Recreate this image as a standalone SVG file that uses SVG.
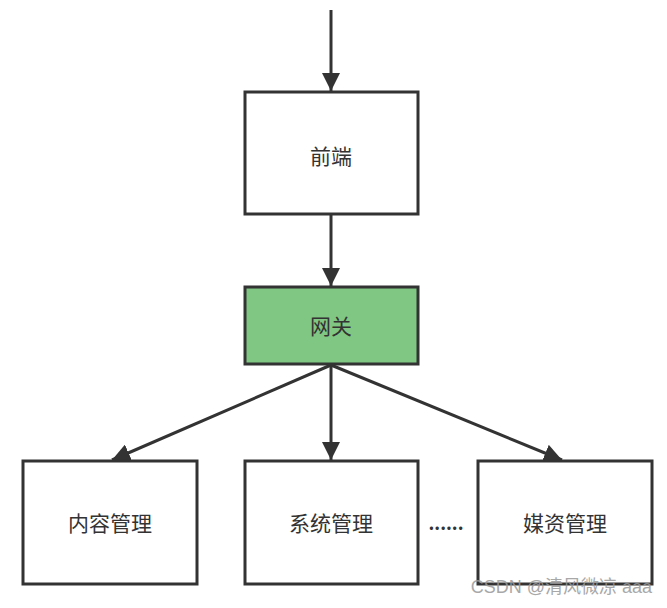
<svg xmlns="http://www.w3.org/2000/svg" width="667" height="608" viewBox="0 0 667 608">
<style>
.box{fill:#fff;stroke:#333;stroke-width:3}
.lbl{font-family:"Noto Sans CJK SC","Liberation Sans",sans-serif;font-size:21px;fill:#333;text-anchor:middle;dominant-baseline:central}
.edge{stroke:#333;stroke-width:3;fill:none}
</style>
<defs>
<marker id="ah" viewBox="0 0 10 10" refX="10" refY="5" markerWidth="6" markerHeight="6" orient="auto" markerUnits="strokeWidth">
<path d="M0,0 L10,5 L0,10 Z" fill="#333"/>
</marker>
</defs>
<rect width="667" height="608" fill="#fff"/>
<g id="edges">
<line class="edge" x1="331" y1="10" x2="331" y2="91" marker-end="url(#ah)"/>
<line class="edge" x1="331" y1="215" x2="331" y2="286" marker-end="url(#ah)"/>
<line class="edge" x1="331" y1="365" x2="112" y2="460" marker-end="url(#ah)"/>
<line class="edge" x1="331" y1="365" x2="331" y2="460" marker-end="url(#ah)"/>
<line class="edge" x1="331" y1="365" x2="562" y2="460" marker-end="url(#ah)"/>
</g>
<g id="frontend">
<rect class="box" x="245" y="92" width="173" height="122"/>
<text class="lbl" x="331" y="155">前端</text>
</g>
<g id="gateway">
<rect class="box" x="245" y="287" width="173" height="77" style="fill:#7fc783"/>
<text class="lbl" x="331" y="325">网关</text>
</g>
<g id="content">
<rect class="box" x="23" y="461" width="174" height="123"/>
<text class="lbl" x="110" y="522">内容管理</text>
</g>
<g id="system">
<rect class="box" x="245" y="461" width="173" height="123"/>
<text class="lbl" x="331" y="522">系统管理</text>
</g>
<text class="lbl" x="446" y="522" style="font-size:18px;font-weight:bold">......</text>
<g id="media">
<rect class="box" x="478" y="461" width="174" height="123"/>
<text class="lbl" x="565" y="522">媒资管理</text>
</g>
<text x="652" y="593" style="font-family:'Liberation Sans','Noto Sans CJK SC',sans-serif;font-size:18px;fill:#999;text-anchor:end;opacity:0.85">CSDN @清风微凉 aaa</text>
</svg>
